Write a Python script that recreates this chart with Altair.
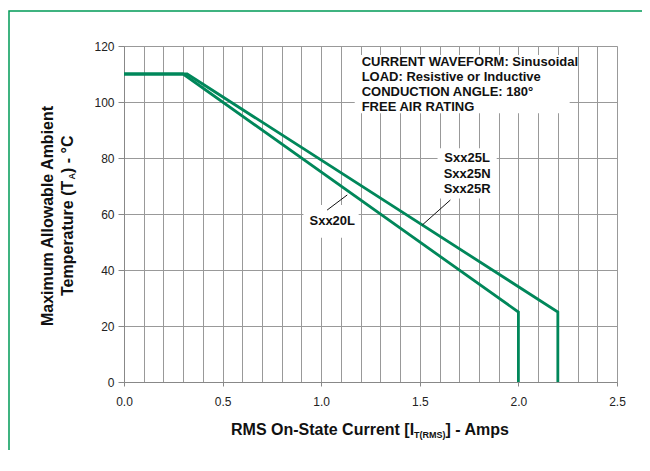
import altair as alt
import pandas as pd

# ---- data ----
series_names = ["Sxx20L", "Sxx25"]
current_20 = [0.0, 0.30, 2.00, 2.00]
temp_20 = [110, 110, 25, 0]
current_25 = [0.0, 0.32, 2.20, 2.20]
temp_25 = [110, 110, 25, 0]

x_ticks = [0.0, 0.1, 0.2, 0.3, 0.4, 0.5, 0.6, 0.7, 0.8, 0.9, 1.0, 1.1, 1.2,
           1.3, 1.4, 1.5, 1.6, 1.7, 1.8, 1.9, 2.0, 2.1, 2.2, 2.3, 2.4, 2.5]
y_ticks = [0, 20, 40, 60, 80, 100, 120]

note_lines = ["CURRENT WAVEFORM: Sinusoidal", "LOAD: Resistive or Inductive",
              "CONDUCTION ANGLE: 180°", "FREE AIR RATING"]
label_20 = ["Sxx20L"]
label_25 = ["Sxx25L", "Sxx25N", "Sxx25R"]

GREEN = "#00875A"
BORDER = "#009A57"
FONT = "Liberation Sans"

rows = []
for name, cs, ts in [(series_names[0], current_20, temp_20), (series_names[1], current_25, temp_25)]:
    for i, (c, t) in enumerate(zip(cs, ts)):
        rows.append({"series": name, "order": i, "x": c, "y": t})
lines_df = pd.DataFrame(rows)

X = alt.X("x:Q", title=None,
          scale=alt.Scale(domain=[0, 2.5], nice=False, zero=False),
          axis=alt.Axis(values=x_ticks, grid=True, gridColor="#999999", gridWidth=1,
                        domainColor="#888888", tickColor="#888888", tickSize=4,
                        tickOpacity={"condition": {"test": "abs(datum.value*2 - round(datum.value*2)) < 0.001", "value": 1}, "value": 0},
                        labelExpr="abs(datum.value*2 - round(datum.value*2)) < 0.001 ? format(datum.value, '.1f') : ''",
                        labelOverlap=False, labelFlush=False, labelPadding=10,
                        labelFont=FONT, labelFontSize=12, labelColor="#222222", title=None))
Y = alt.Y("y:Q", title=None,
          scale=alt.Scale(domain=[0, 120], nice=False, zero=False),
          axis=alt.Axis(values=y_ticks, grid=True, gridColor="#999999", gridWidth=1,
                        domainColor="#888888", tickColor="#888888", tickSize=6,
                        labelFlush=False, labelPadding=4, labelOverlap=False,
                        labelFont=FONT, labelFontSize=12, labelColor="#222222", title=None))

# white masks behind annotations
mask_df = pd.DataFrame({"x": [1.17, 1.59, 0.91], "x2": [2.26, 1.89, 1.19],
                        "y": [96, 65.5, 51.5], "y2": [116.8, 83.5, 63.2]})
masks = alt.Chart(mask_df).mark_rect(color="white").encode(
    x=X, x2=alt.X2("x2:Q", title=None), y=Y, y2=alt.Y2("y2:Q", title=None))

curves = alt.Chart(lines_df).mark_line(color=GREEN, strokeWidth=2.8, strokeJoin="miter").encode(
    x=X, y=Y, detail="series:N", order="order:Q")

note_df = pd.DataFrame({"x": [1.205] * 4, "y": [114.4, 109.0, 103.7, 98.3], "t": note_lines})
notes = alt.Chart(note_df).mark_text(font=FONT, fontWeight="bold", fontSize=13, align="left",
                                     baseline="middle", color="#111111").encode(x=X, y=Y, text="t:N")

lab25_df = pd.DataFrame({"x": [1.74] * 3, "y": [79.9, 74.4, 68.8], "t": label_25})
lab25 = alt.Chart(lab25_df).mark_text(font=FONT, fontWeight="bold", fontSize=13, align="center",
                                      baseline="middle", color="#111111").encode(x=X, y=Y, text="t:N")
lab20_df = pd.DataFrame({"x": [1.056], "y": [57.5], "t": label_20})
lab20 = alt.Chart(lab20_df).mark_text(font=FONT, fontWeight="bold", fontSize=13, align="center",
                                      baseline="middle", color="#111111").encode(x=X, y=Y, text="t:N")

lead_df = pd.DataFrame({"x": [1.655, 1.03], "y": [65.0, 61.4], "x2": [1.513, 1.132], "y2": [56.1, 66.8]})
leaders = alt.Chart(lead_df).mark_rule(color="#111111", strokeWidth=1).encode(
    x=X, y=Y, x2=alt.X2("x2:Q", title=None), y2=alt.Y2("y2:Q", title=None))

one = pd.DataFrame({"k": [0]})

# axis titles (with subscripts) as text marks
def txt(text, x, y, size, angle=0, align="left", weight="bold"):
    kw = dict(font=FONT, fontWeight=weight, fontSize=size, align=align, baseline="middle", color="#111111")
    if angle:
        kw["angle"] = angle
    return alt.Chart(one).mark_text(**kw).encode(x=alt.value(x), y=alt.value(y), text=alt.value(text))

xt = [
    txt("RMS On-State Current [I", 107, 384, 16),
    txt("T(RMS)", 290, 389, 9),
    txt("] - Amps", 321.5, 384, 16),
]
yt = [
    txt("Maximum Allowable Ambient", -76, 170, 16, angle=270, align="center"),
    txt("Temperature (T", -56, 250, 16, angle=270),
    txt("A", -52, 133.5, 9, angle=270),
    txt(") - °C", -56, 127, 16, angle=270),
]

border = alt.Chart(one).mark_rect(fill=None, stroke=BORDER, strokeWidth=1.5).encode(
    x=alt.value(-115), x2=alt.value(560), y=alt.value(-35), y2=alt.value(440))

chart = alt.layer(masks, curves, notes, lab25, lab20, leaders, *xt, *yt, border).properties(
    width=493, height=336,
    padding={"left": 116, "top": 38, "right": 25, "bottom": 68},
    autosize=alt.AutoSizeParams(type="none"),
).configure_view(stroke=None).configure(font=FONT, background="white")

chart.save("out.html", embed_options={"renderer": "svg", "actions": False})
